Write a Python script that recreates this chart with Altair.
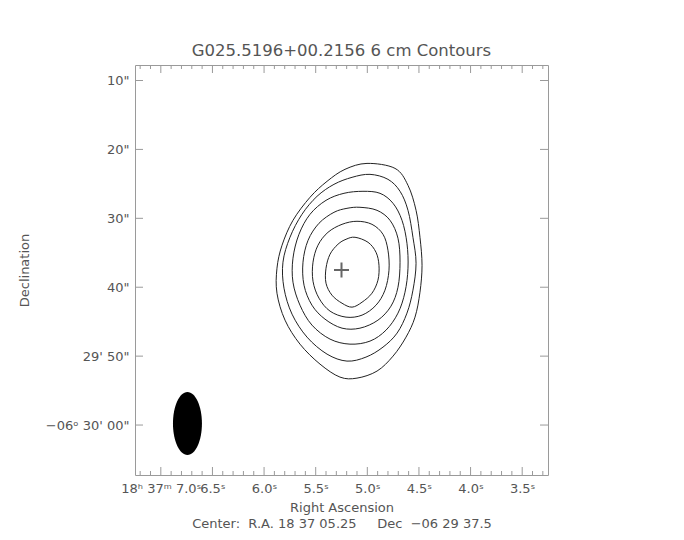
import json
import altair as alt
import pandas as pd

# ---------------- text ----------------
chart_title = "G025.5196+00.2156 6 cm Contours"
x_title = ["Right Ascension",
           "Center:\u00a0\u00a0R.A. 18 37 05.25\u00a0\u00a0\u00a0\u00a0\u00a0Dec\u00a0\u00a0\u221206 29 37.5"]
y_title = "Declination"

# ---------------- axes (RA seconds of 18h37m, Dec arcsec past -06d29') ----------------
ra_domain = [7.25, 3.25]
dec_domain = [67.25, 7.75]

ra_major = [7.0, 6.5, 6.0, 5.5, 5.0, 4.5, 4.0, 3.5]
ra_major_labels = ["18\u02b0 37\u1d50 7.0\u02e2", "6.5\u02e2", "6.0\u02e2", "5.5\u02e2",
                   "5.0\u02e2", "4.5\u02e2", "4.0\u02e2", "3.5\u02e2"]
ra_minor = [7.2, 7.1, 6.9, 6.8, 6.7, 6.6, 6.4, 6.3, 6.2, 6.1, 5.9, 5.8, 5.7, 5.6,
            5.4, 5.3, 5.2, 5.1, 4.9, 4.8, 4.7, 4.6, 4.4, 4.3, 4.2, 4.1, 3.9, 3.8,
            3.7, 3.6, 3.4, 3.3]
dec_major = [10, 20, 30, 40, 50, 60]
dec_major_labels = ['10"', '20"', '30"', '40"', "29' 50\"", "\u221206\u1d52 30' 00\""]

# ---------------- contours (RA s, Dec arcsec) ----------------
ring1_ra = [5.003, 4.732, 4.606, 4.528, 4.490, 4.470, 4.490, 4.538, 4.625, 4.751, 4.906,
            5.100, 5.265, 5.458, 5.652, 5.797, 5.875, 5.875, 5.826, 5.720, 5.555, 5.390, 5.216]
ring1_dec = [22.03, 22.75, 25.21, 28.84, 32.75, 36.81, 40.72, 44.34, 47.24, 50.00, 52.17,
             53.19, 53.04, 51.16, 48.26, 44.78, 40.87, 37.24, 33.91, 30.29, 26.95, 24.63, 22.89]

ring2_ra = [4.974, 4.800, 4.683, 4.606, 4.558, 4.528, 4.558, 4.616, 4.712, 4.848, 5.013,
            5.197, 5.390, 5.584, 5.729, 5.807, 5.817, 5.749, 5.633, 5.487, 5.323, 5.148]
ring2_dec = [23.62, 24.34, 26.08, 28.84, 32.75, 36.52, 40.43, 43.76, 46.66, 48.69, 50.14,
             50.72, 49.71, 47.24, 43.91, 40.14, 36.37, 32.75, 29.42, 26.81, 25.07, 24.05]

ring3_ra = [5.042, 4.877, 4.751, 4.664, 4.616, 4.606, 4.635, 4.703, 4.819, 4.974, 5.168,
            5.361, 5.536, 5.652, 5.720, 5.720, 5.662, 5.555, 5.400, 5.226]
ring3_dec = [26.08, 26.37, 27.82, 30.29, 33.62, 37.24, 40.72, 43.76, 46.23, 47.82, 48.26,
             47.53, 45.50, 42.61, 39.27, 35.79, 32.32, 29.42, 27.39, 26.37]

ring4_ra = [5.071, 4.906, 4.780, 4.703, 4.683, 4.703, 4.771, 4.897, 5.071, 5.245, 5.410,
            5.536, 5.613, 5.623, 5.574, 5.468, 5.323, 5.197]
ring4_dec = [28.40, 28.84, 30.29, 32.89, 36.37, 40.00, 42.75, 44.78, 45.94, 45.94, 44.63,
             42.61, 39.71, 36.37, 33.19, 30.72, 29.13, 28.55]

ring5_ra = [5.100, 4.955, 4.848, 4.800, 4.790, 4.829, 4.916, 5.051, 5.206, 5.361, 5.468,
            5.526, 5.526, 5.478, 5.381, 5.245]
ring5_dec = [30.43, 30.87, 32.32, 34.63, 37.53, 40.43, 42.61, 44.05, 44.34, 43.47, 41.59,
             39.13, 36.37, 33.91, 32.03, 30.87]

ring6_ra = [5.119, 4.993, 4.916, 4.887, 4.897, 4.955, 5.051, 5.148, 5.245, 5.342, 5.400,
            5.400, 5.361, 5.284, 5.206]
ring6_dec = [32.75, 33.48, 34.92, 36.81, 38.98, 40.87, 42.17, 42.89, 42.32, 41.16, 39.42,
             37.24, 35.21, 33.76, 33.04]

# source position (cross) and restoring beam position
source_ra = [5.25]
source_dec = [37.5]
beam_ra = [6.742]
beam_dec = [59.78]

# ---------------- build tables ----------------
rows = []
for lvl, (ras, decs) in enumerate([(ring1_ra, ring1_dec), (ring2_ra, ring2_dec),
                                   (ring3_ra, ring3_dec), (ring4_ra, ring4_dec),
                                   (ring5_ra, ring5_dec), (ring6_ra, ring6_dec)]):
    for i, (r, d) in enumerate(zip(ras, decs)):
        rows.append({"level": lvl, "idx": i, "ra": r, "dec": d})
contours = pd.DataFrame(rows)

ra_major_df = pd.DataFrame({"ra": ra_major})
ra_minor_df = pd.DataFrame({"ra": ra_minor})
dec_major_df = pd.DataFrame({"dec": dec_major})
src_df = pd.DataFrame({"ra": source_ra, "dec": source_dec})
beam_df = pd.DataFrame({"ra": beam_ra, "dec": beam_dec})

W, H = 413, 410
TXT = "#555555"
FRAME = "#9a9a9a"
FONT = "DejaVu Sans"


def lab_expr(values, labels):
    parts = [f"datum.value == {v} ? {json.dumps(l)}" for v, l in zip(values, labels)]
    return " : ".join(parts) + " : ''"


x_axis = alt.Axis(values=ra_major, labelExpr=lab_expr(ra_major, ra_major_labels),
                  title=x_title, labelOverlap=False, labelFlush=False, labelPadding=7,
                  titlePadding=6, titleLineHeight=16)
y_axis = alt.Axis(values=dec_major, labelExpr=lab_expr(dec_major, dec_major_labels),
                  title=y_title, labelOverlap=False, labelFlush=False, labelPadding=6,
                  titlePadding=14)

X = alt.X("ra:Q", scale=alt.Scale(domain=ra_domain, nice=False, zero=False), axis=x_axis)
Y = alt.Y("dec:Q", scale=alt.Scale(domain=dec_domain, nice=False, zero=False), axis=y_axis)

contour_layer = alt.Chart(contours).mark_line(
    interpolate="cardinal-closed", color="#222222", strokeWidth=1
).encode(x=X, y=Y, detail="level:N", order="idx:Q")

beam_layer = alt.Chart(beam_df).mark_point(
    shape="M0,-1A0.46,1,0,1,1,0,1A0.46,1,0,1,1,0,-1Z",
    filled=True, color="black", opacity=1, size=3969, strokeWidth=0
).encode(x=X, y=Y)

cross_layer = alt.Chart(src_df).mark_point(
    shape="M-1,0L1,0M0,-1L0,1", filled=False, color="#666666", opacity=1,
    size=225, strokeWidth=2
).encode(x=X, y=Y)

tick_style = dict(color=FRAME, strokeWidth=1)
ra_major_bot = alt.Chart(ra_major_df).mark_rule(**tick_style).encode(
    x=X, y=alt.value(H), y2=alt.value(H - 8))
ra_major_top = alt.Chart(ra_major_df).mark_rule(**tick_style).encode(
    x=X, y=alt.value(0), y2=alt.value(8))
ra_minor_bot = alt.Chart(ra_minor_df).mark_rule(**tick_style).encode(
    x=X, y=alt.value(H), y2=alt.value(H - 4))
ra_minor_top = alt.Chart(ra_minor_df).mark_rule(**tick_style).encode(
    x=X, y=alt.value(0), y2=alt.value(4))
dec_left = alt.Chart(dec_major_df).mark_rule(**tick_style).encode(
    y=Y, x=alt.value(0), x2=alt.value(8))
dec_right = alt.Chart(dec_major_df).mark_rule(**tick_style).encode(
    y=Y, x=alt.value(W), x2=alt.value(W - 8))

chart = alt.layer(
    ra_minor_bot, ra_minor_top, ra_major_bot, ra_major_top, dec_left, dec_right,
    contour_layer, beam_layer, cross_layer
).properties(
    width=W, height=H,
    title=alt.TitleParams(chart_title, fontSize=16.5, font=FONT, fontWeight="normal",
                          color=TXT, offset=5, anchor="middle"),
    autosize=alt.AutoSizeParams(type="none"),
    padding={"left": 127, "top": 57, "right": 110, "bottom": 55},
).configure_view(
    stroke=FRAME, strokeWidth=1
).configure_axis(
    domain=False, ticks=False, grid=False,
    labelFont=FONT, labelFontSize=13, labelColor=TXT,
    titleFont=FONT, titleFontSize=13, titleColor=TXT, titleFontWeight="normal"
)

chart.save("out.html", embed_options={"renderer": "svg", "actions": False})
